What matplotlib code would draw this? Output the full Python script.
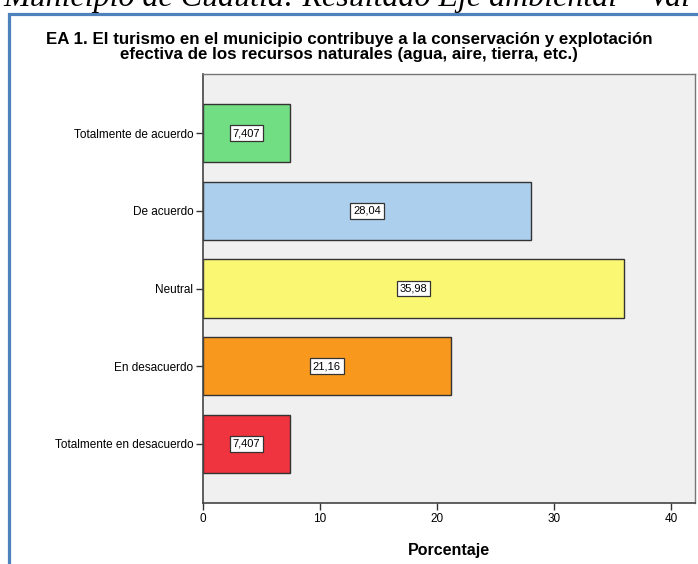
import matplotlib
matplotlib.use("Agg")
import matplotlib.pyplot as plt
from matplotlib.patches import Rectangle

categorias = ["Totalmente de acuerdo", "De acuerdo", "Neutral", "En desacuerdo",
              "Totalmente en desacuerdo"]
porcentajes = [7.407, 28.04, 35.98, 21.16, 7.407]
etiquetas = ["7,407", "28,04", "35,98", "21,16", "7,407"]
colores = ["#72DE83", "#ADCFEE", "#FAF872", "#F8991E", "#EF333F"]
xticks = [0, 10, 20, 30, 40]

plt.rcParams["font.family"] = ["Liberation Sans", "DejaVu Sans"]

fig = plt.figure(figsize=(6.98, 5.64), dpi=100)
fig.patch.set_facecolor("white")

# texto cortado del documento original
fig.text(0.005, 1 - 6 / 564, "Municipio de Cuautla: Resultado Eje ambiental \u2013 Val",
         family="Liberation Serif", style="italic", fontsize=23, va="baseline", ha="left")

# marco azul
fig.patches.append(Rectangle((8.5 / 698, -0.1), 1.2, 1 - 14 / 564 + 0.1,
                             transform=fig.transFigure, fill=False,
                             edgecolor="#4F81BD", linewidth=2.3))

fig.text(0.5, 1 - 47 / 564,
         "EA 1. El turismo en el municipio contribuye a la conservación y explotación\n"
         "efectiva de los recursos naturales (agua, aire, tierra, etc.)",
         ha="center", va="center", fontsize=12.2, fontweight="bold", linespacing=0.95)

ax = fig.add_axes([203 / 698, 1 - 503 / 564, 492 / 698, 429 / 564])
ax.set_facecolor("#F0F0F0")

pos = list(range(len(categorias)))
bars = ax.barh(pos, porcentajes, height=0.75, color=colores, edgecolor="#333333",
               linewidth=1)
for b, txt in zip(bars, etiquetas):
    ax.text(b.get_width() / 2, b.get_y() + b.get_height() / 2, txt,
            ha="center", va="center", fontsize=8,
            bbox=dict(boxstyle="square,pad=0.25", facecolor="white",
                      edgecolor="#333333", linewidth=0.9))

ax.set_xlim(0, 42.05)
ax.set_ylim(4.76, -0.76)
ax.set_yticks(pos)
ax.set_yticklabels(categorias, fontsize=8.5)
ax.set_xticks(xticks)
ax.set_xticklabels([str(t) for t in xticks], fontsize=8.5)
ax.tick_params(axis="both", direction="out", length=5, width=1, color="#333333", pad=2)
ax.set_xlabel("Porcentaje", fontsize=11.5, fontweight="bold", labelpad=13)

for s in ["left", "bottom"]:
    ax.spines[s].set_color("#444444")
    ax.spines[s].set_linewidth(1.2)
for s in ["top", "right"]:
    ax.spines[s].set_color("#777777")
    ax.spines[s].set_linewidth(1)

fig.savefig("out.png", dpi=100)
